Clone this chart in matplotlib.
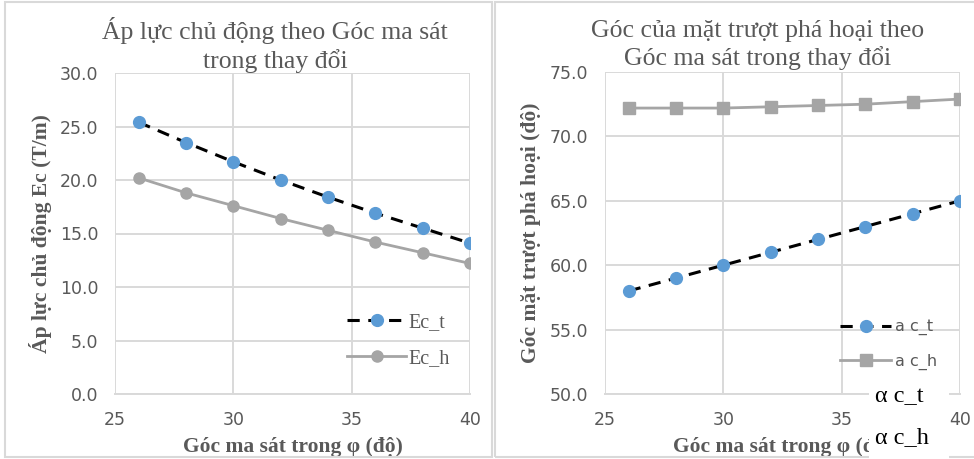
import matplotlib.pyplot as plt
from matplotlib.patches import Rectangle

phi = [26, 28, 30, 32, 34, 36, 38, 40]
ec_t = [25.4, 23.5, 21.7, 20.0, 18.4, 16.9, 15.5, 14.1]
ec_h = [20.2, 18.8, 17.6, 16.4, 15.3, 14.2, 13.2, 12.2]
ac_t = [58.0, 59.0, 60.0, 61.0, 62.0, 63.0, 64.0, 65.0]
ac_h = [72.2, 72.2, 72.2, 72.3, 72.4, 72.5, 72.7, 72.9]

W, H = 974, 459
BLUE = "#5B9BD5"
GRAY = "#A5A5A5"
TXT = "#595959"
GRID = "#D9D9D9"
SERIF = "Liberation Serif"
SANS = "DejaVu Sans"

fig = plt.figure(figsize=(W / 100, H / 100), dpi=100)


def px_axes(x0, x1, ytop, ybot):
    return fig.add_axes([x0 / W, (H - ybot) / H, (x1 - x0) / W, (ybot - ytop) / H])


def style(ax, ylim, yticks):
    ax.set_xlim(25, 40)
    ax.set_xticks([25, 30, 35, 40])
    ax.set_ylim(*ylim)
    ax.set_yticks(yticks)
    ax.set_yticklabels([f"{v:.1f}" for v in yticks])
    ax.grid(True, color=GRID, lw=1.4)
    ax.set_axisbelow(True)
    for s in ["top", "right", "left"]:
        ax.spines[s].set_visible(False)
    ax.spines["bottom"].set_color(GRID)
    ax.spines["bottom"].set_linewidth(1.4)
    ax.tick_params(length=0, labelcolor=TXT, labelsize=12.5, pad=12)
    for lab in ax.get_xticklabels() + ax.get_yticklabels():
        lab.set_fontfamily(SANS)


# panel frames
fig.add_artist(Rectangle((5 / W, 2 / H), 487 / W, 455 / H, transform=fig.transFigure,
                         fill=False, ec=GRID, lw=1.5))
fig.add_artist(Rectangle((495 / W, 2 / H), 485 / W, 455 / H, transform=fig.transFigure,
                         fill=False, ec=GRID, lw=1.5))

# left chart
ax1 = px_axes(115, 470, 73, 394)
style(ax1, (0, 30), [0, 5, 10, 15, 20, 25, 30])
ax1.plot(phi, ec_t, color="black", lw=2.2, dashes=(4, 2.8), marker="o",
         ms=8.5, mfc=BLUE, mec=BLUE, label="Ec_t")
ax1.plot(phi, ec_h, color=GRAY, lw=2, marker="o", ms=8, mfc=GRAY, mec=GRAY, label="Ec_h")
ax1.set_xlabel("Góc ma sát trong φ (độ)", family=SERIF, weight="bold", color=TXT,
               fontsize=15.5, labelpad=6)
ax1.set_ylabel("Áp lực chủ động Ec (T/m)", family=SERIF, weight="bold", color=TXT,
               fontsize=15.5, labelpad=6)
leg1 = ax1.legend(loc="lower right", bbox_to_anchor=(0.995, 0.025), frameon=False,
                  handlelength=2.9, labelspacing=0.85, handletextpad=0.15,
                  prop={"family": SERIF, "size": 14.5})
for t in leg1.get_texts():
    t.set_color(TXT)
fig.text(275 / W, 1 - 45 / H, "Áp lực chủ động theo Góc ma sát\ntrong thay đổi",
         ha="center", va="center", family=SERIF, fontsize=18.5, color=TXT, linespacing=1.25)

# right chart
ax2 = px_axes(605, 960, 72, 394)
style(ax2, (50, 75), [50, 55, 60, 65, 70, 75])
ax2.plot(phi, ac_t, color="black", lw=2.2, dashes=(4, 2.8), marker="o",
         ms=8.5, mfc=BLUE, mec=BLUE, label="a c_t")
ax2.plot(phi, ac_h, color=GRAY, lw=2, marker="s", ms=8, mfc=GRAY, mec=GRAY, label="a c_h")
ax2.set_xlabel("Góc ma sát trong φ (độ)", family=SERIF, weight="bold", color=TXT,
               fontsize=15.5, labelpad=6)
ax2.set_ylabel("Góc mặt trượt phá hoại (độ)", family=SERIF, weight="bold", color=TXT,
               fontsize=15.5, labelpad=6)
leg2 = ax2.legend(loc="lower right", bbox_to_anchor=(0.975, 0.03), frameon=False,
                  handlelength=3.2, labelspacing=1.15, handletextpad=0.2,
                  prop={"family": SANS, "size": 11.5})
for t in leg2.get_texts():
    t.set_color(TXT)
fig.text(758 / W, 1 - 45 / H, "Góc của mặt trượt phá hoại theo\nGóc ma sát trong thay đổi",
         ha="center", va="center", family=SERIF, fontsize=18.5, color=TXT, linespacing=1.25)

# white overlay with stray labels (covers the end of the x label, as in the source)
fig.add_artist(Rectangle((869 / W, 0), 80 / W, (H - 388) / H, transform=fig.transFigure,
                         fc="white", ec="none", zorder=10))
fig.text(875 / W, 1 - 397 / H, "α c_t", ha="left", va="center", family=SERIF,
         fontsize=17.5, color="black", zorder=11)
fig.text(875 / W, 1 - 438 / H, "α c_h", ha="left", va="center", family=SERIF,
         fontsize=17.5, color="black", zorder=11)

fig.savefig("out.png", dpi=100)
